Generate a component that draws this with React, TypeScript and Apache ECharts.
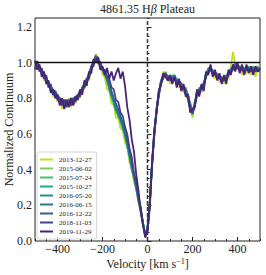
import React, { useEffect, useRef } from "react";
import * as echarts from "echarts";

const dates = [
  "2013-12-27", "2015-06-02", "2015-07-24", "2015-10-27", "2016-05-20",
  "2016-06-15", "2016-12-22", "2018-11-03", "2019-11-29",
];
const colors = [
  "#c2df23", "#7ad151", "#44bf70", "#22a884", "#21918c",
  "#2a788e", "#355f8d", "#414487", "#482475",
];

// velocity grid, km/s (-500 .. 500, 10 km/s)
const velocities = Array.from({ length: 101 }, (_, i) => -500 + 10 * i);

const flux20131227 = [
  0.97, 1.00, 0.95, 0.96, 0.90, 0.92, 0.86, 0.87, 0.81, 0.84,
  0.78, 0.80, 0.74, 0.79, 0.76, 0.80, 0.75, 0.80, 0.77, 0.82,
  0.80, 0.86, 0.85, 0.91, 0.90, 0.96, 0.98, 1.05, 0.99, 1.00,
  0.93, 0.92, 0.85, 0.84, 0.77, 0.76, 0.69, 0.69, 0.63, 0.62,
  0.55, 0.53, 0.44, 0.41, 0.33, 0.29, 0.21, 0.17, 0.08, 0.04,
  0.06, 0.22, 0.42, 0.62, 0.71, 0.84, 0.87, 0.95, 0.92, 0.93,
  0.88, 0.93, 0.90, 0.91, 0.86, 0.89, 0.83, 0.86, 0.78, 0.77,
  0.69, 0.78, 0.80, 0.86, 0.83, 0.89, 0.91, 0.97, 0.95, 0.96,
  0.91, 0.94, 0.89, 0.92, 0.88, 0.93, 0.91, 0.97, 1.06, 0.98,
  0.96, 0.98, 0.93, 0.97, 0.94, 0.98, 0.93, 0.98, 0.92, 0.97,
  0.95,
];
const flux20150602 = [
  0.99, 0.98, 0.98, 0.94, 0.94, 0.90, 0.89, 0.85, 0.85, 0.82,
  0.82, 0.78, 0.79, 0.77, 0.79, 0.77, 0.80, 0.78, 0.81, 0.80,
  0.84, 0.84, 0.89, 0.89, 0.94, 0.96, 1.01, 1.02, 1.03, 0.98,
  0.95, 0.93, 0.89, 0.85, 0.80, 0.77, 0.72, 0.70, 0.66, 0.63,
  0.58, 0.53, 0.47, 0.40, 0.35, 0.29, 0.22, 0.16, 0.09, 0.03,
  0.07, 0.21, 0.44, 0.59, 0.74, 0.82, 0.90, 0.92, 0.95, 0.91,
  0.92, 0.91, 0.93, 0.89, 0.90, 0.87, 0.87, 0.84, 0.82, 0.75,
  0.73, 0.76, 0.84, 0.84, 0.87, 0.87, 0.94, 0.95, 0.98, 0.94,
  0.95, 0.92, 0.93, 0.90, 0.92, 0.91, 0.95, 0.95, 0.98, 0.98,
  0.99, 0.96, 0.98, 0.95, 0.98, 0.96, 0.97, 0.96, 0.97, 0.98,
  0.97,
];
const flux20150724 = [
  0.97, 1.00, 0.96, 0.96, 0.92, 0.92, 0.87, 0.87, 0.83, 0.84,
  0.80, 0.80, 0.77, 0.79, 0.77, 0.79, 0.78, 0.80, 0.79, 0.82,
  0.82, 0.86, 0.87, 0.91, 0.92, 0.98, 0.99, 1.04, 1.01, 1.00,
  0.96, 0.94, 0.90, 0.86, 0.81, 0.78, 0.73, 0.71, 0.67, 0.64,
  0.59, 0.54, 0.47, 0.41, 0.35, 0.30, 0.23, 0.17, 0.10, 0.03,
  0.06, 0.20, 0.42, 0.61, 0.72, 0.84, 0.88, 0.94, 0.93, 0.93,
  0.90, 0.93, 0.91, 0.91, 0.88, 0.89, 0.85, 0.86, 0.80, 0.77,
  0.71, 0.78, 0.82, 0.86, 0.85, 0.89, 0.92, 0.97, 0.96, 0.96,
  0.93, 0.94, 0.91, 0.92, 0.90, 0.93, 0.93, 0.97, 0.96, 1.00,
  0.97, 0.98, 0.96, 0.97, 0.96, 0.98, 0.95, 0.98, 0.95, 0.97,
  0.96,
];
const flux20151027 = [
  0.98, 0.98, 0.97, 0.94, 0.93, 0.90, 0.88, 0.85, 0.84, 0.82,
  0.81, 0.78, 0.78, 0.77, 0.78, 0.77, 0.79, 0.78, 0.80, 0.80,
  0.83, 0.84, 0.88, 0.89, 0.93, 0.96, 1.00, 1.02, 1.02, 0.98,
  0.96, 0.93, 0.91, 0.85, 0.82, 0.77, 0.74, 0.70, 0.68, 0.63,
  0.60, 0.53, 0.48, 0.40, 0.36, 0.29, 0.23, 0.16, 0.10, 0.02,
  0.07, 0.19, 0.43, 0.59, 0.73, 0.82, 0.89, 0.92, 0.94, 0.91,
  0.91, 0.91, 0.92, 0.89, 0.89, 0.87, 0.86, 0.84, 0.81, 0.75,
  0.72, 0.76, 0.83, 0.84, 0.86, 0.87, 0.93, 0.95, 0.97, 0.94,
  0.94, 0.92, 0.92, 0.90, 0.91, 0.91, 0.94, 0.95, 0.97, 0.98,
  0.98, 0.96, 0.97, 0.95, 0.97, 0.96, 0.96, 0.96, 0.96, 0.96,
  0.96,
];
const flux20160520 = [
  0.99, 0.99, 0.98, 0.95, 0.94, 0.91, 0.89, 0.86, 0.85, 0.83,
  0.82, 0.80, 0.79, 0.79, 0.79, 0.78, 0.80, 0.79, 0.81, 0.81,
  0.84, 0.85, 0.89, 0.90, 0.94, 0.97, 1.01, 1.03, 1.03, 0.99,
  0.97, 0.94, 0.92, 0.87, 0.83, 0.79, 0.75, 0.72, 0.69, 0.65,
  0.61, 0.55, 0.49, 0.42, 0.37, 0.30, 0.24, 0.17, 0.10, 0.03,
  0.08, 0.21, 0.44, 0.61, 0.74, 0.83, 0.90, 0.93, 0.94, 0.92,
  0.92, 0.92, 0.93, 0.90, 0.90, 0.88, 0.87, 0.85, 0.82, 0.77,
  0.73, 0.77, 0.84, 0.85, 0.87, 0.88, 0.94, 0.96, 0.98, 0.95,
  0.95, 0.93, 0.93, 0.91, 0.92, 0.92, 0.95, 0.96, 0.98, 0.99,
  0.99, 0.97, 0.98, 0.96, 0.98, 0.97, 0.97, 0.97, 0.97, 0.97,
  0.97,
];
const flux20160615 = [
  0.98, 1.00, 0.97, 0.96, 0.93, 0.92, 0.88, 0.87, 0.84, 0.84,
  0.81, 0.80, 0.78, 0.79, 0.78, 0.79, 0.79, 0.80, 0.80, 0.82,
  0.83, 0.86, 0.88, 0.91, 0.93, 0.98, 1.00, 1.04, 1.02, 1.00,
  0.96, 0.95, 0.91, 0.87, 0.82, 0.79, 0.74, 0.72, 0.68, 0.65,
  0.60, 0.55, 0.48, 0.42, 0.36, 0.31, 0.23, 0.18, 0.10, 0.04,
  0.07, 0.20, 0.43, 0.60, 0.73, 0.83, 0.89, 0.93, 0.94, 0.92,
  0.91, 0.92, 0.92, 0.90, 0.89, 0.88, 0.86, 0.85, 0.81, 0.76,
  0.72, 0.77, 0.83, 0.85, 0.86, 0.88, 0.93, 0.96, 0.97, 0.95,
  0.94, 0.93, 0.92, 0.91, 0.91, 0.92, 0.94, 0.96, 0.97, 0.99,
  0.98, 0.97, 0.97, 0.96, 0.97, 0.97, 0.96, 0.97, 0.96, 0.97,
  0.96,
];
const flux20161222 = [
  0.97, 0.99, 0.96, 0.95, 0.92, 0.91, 0.87, 0.86, 0.83, 0.83,
  0.80, 0.79, 0.77, 0.78, 0.77, 0.78, 0.78, 0.79, 0.79, 0.81,
  0.82, 0.85, 0.87, 0.90, 0.92, 0.97, 0.99, 1.02, 1.01, 0.99,
  0.96, 0.95, 0.92, 0.88, 0.84, 0.80, 0.77, 0.74, 0.70, 0.66,
  0.62, 0.56, 0.50, 0.43, 0.37, 0.31, 0.24, 0.17, 0.10, 0.03,
  0.06, 0.20, 0.42, 0.60, 0.73, 0.82, 0.88, 0.92, 0.93, 0.91,
  0.90, 0.91, 0.91, 0.89, 0.88, 0.87, 0.85, 0.84, 0.80, 0.75,
  0.71, 0.76, 0.82, 0.84, 0.85, 0.87, 0.92, 0.95, 0.96, 0.94,
  0.93, 0.92, 0.91, 0.90, 0.90, 0.91, 0.93, 0.95, 0.96, 0.98,
  0.97, 0.96, 0.96, 0.95, 0.96, 0.96, 0.95, 0.96, 0.95, 0.96,
  0.95,
];
const flux20181103 = [
  0.96, 1.01, 0.95, 0.97, 0.91, 0.93, 0.86, 0.88, 0.82, 0.84,
  0.79, 0.80, 0.76, 0.79, 0.75, 0.79, 0.76, 0.80, 0.78, 0.82,
  0.81, 0.86, 0.86, 0.91, 0.91, 0.98, 0.98, 1.03, 1.00, 1.00,
  0.96, 0.96, 0.92, 0.91, 0.86, 0.85, 0.79, 0.78, 0.72, 0.70,
  0.64, 0.60, 0.52, 0.47, 0.38, 0.33, 0.24, 0.19, 0.09, 0.04,
  0.05, 0.19, 0.43, 0.59, 0.73, 0.81, 0.89, 0.91, 0.94, 0.90,
  0.91, 0.90, 0.92, 0.88, 0.89, 0.85, 0.86, 0.82, 0.80, 0.73,
  0.72, 0.75, 0.83, 0.83, 0.86, 0.86, 0.93, 0.94, 0.97, 0.93,
  0.94, 0.91, 0.92, 0.89, 0.91, 0.90, 0.94, 0.94, 0.97, 0.97,
  0.98, 0.95, 0.97, 0.94, 0.97, 0.95, 0.96, 0.95, 0.96, 0.95,
  0.96,
];
const flux20191129 = [
  1.01, 0.96, 0.99, 0.92, 0.95, 0.88, 0.90, 0.83, 0.85, 0.80,
  0.82, 0.76, 0.80, 0.74, 0.79, 0.75, 0.80, 0.76, 0.81, 0.79,
  0.85, 0.82, 0.90, 0.87, 0.95, 0.94, 1.02, 1.00, 1.03, 0.96,
  0.98, 0.93, 0.97, 0.91, 0.95, 0.90, 0.94, 0.97, 0.91, 0.95,
  0.87, 0.75, 0.68, 0.57, 0.50, 0.37, 0.28, 0.17, 0.09, 0.02,
  0.06, 0.22, 0.42, 0.62, 0.72, 0.84, 0.88, 0.94, 0.92, 0.90,
  0.93, 0.88, 0.92, 0.86, 0.91, 0.84, 0.88, 0.81, 0.82, 0.72,
  0.74, 0.75, 0.85, 0.81, 0.88, 0.84, 0.95, 0.93, 0.99, 0.92,
  0.96, 0.90, 0.94, 0.88, 0.93, 0.88, 0.96, 0.93, 0.99, 0.95,
  1.00, 0.94, 0.99, 0.93, 0.99, 0.94, 0.98, 0.93, 0.98, 0.95,
  0.97,
];

const xTicks = [-400, -200, 0, 200, 400];
const yTicks = [0, 0.2, 0.4, 0.6, 0.8, 1.0, 1.2];
const continuumLevel = 1.0;
const restVelocity = 0;

export default function App() {
  const ref = useRef<HTMLDivElement>(null);
  useEffect(() => {
    const chart = echarts.init(ref.current!, null, { renderer: "svg" });
    const serif = "'Liberation Serif', 'DejaVu Serif', serif";
    const ink = "#222";
    const fluxes = [
      flux20131227, flux20150602, flux20150724, flux20151027, flux20160520,
      flux20160615, flux20161222, flux20181103, flux20191129,
    ];
    const spectra = dates.map((d, k) => ({
      name: d,
      type: "line",
      data: velocities.map((v, i) => [v, fluxes[k][i]]),
      symbol: "none",
      showSymbol: false,
      silent: true,
      lineStyle: { width: 1.8, color: colors[k] },
      itemStyle: { color: colors[k] },
    }));
    const minorAxis = {
      axisLine: { show: false },
      axisLabel: { show: false },
      splitLine: { show: false },
    };
    chart.setOption({
      animation: false,
      backgroundColor: "#fff",
      title: {
        text: "4861.35 H{i|β} Plateau",
        left: 147.5,
        top: 3,
        padding: 0,
        textAlign: "center",
        textStyle: {
          fontFamily: serif,
          fontSize: 12,
          fontWeight: "normal",
          color: ink,
          rich: { i: { fontFamily: serif, fontSize: 12, fontStyle: "italic", color: ink } },
        },
      },
      grid: {
        left: 35,
        right: 6,
        top: 18,
        bottom: 34,
        show: true,
        borderColor: ink,
        borderWidth: 1,
        backgroundColor: "transparent",
        containLabel: false,
        outerBoundsMode: "none",
      },
      legend: {
        orient: "vertical",
        left: 37,
        top: 152,
        data: dates,
        icon: "rect",
        itemWidth: 13,
        itemHeight: 2,
        itemGap: 0,
        padding: [3, 5, 3, 3],
        backgroundColor: "rgba(255,255,255,0.8)",
        borderColor: "#ccc",
        borderWidth: 0.8,
        borderRadius: 2,
        selectedMode: false,
        textStyle: { fontFamily: serif, fontSize: 7, lineHeight: 9, color: ink, padding: [0, 0, 0, 1] },
      },
      xAxis: [
        {
          type: "value",
          min: -500,
          max: 500,
          position: "bottom",
          axisLine: { show: false },
          splitLine: { show: false },
          axisTick: { inside: true, length: 4, customValues: xTicks, lineStyle: { color: ink } },
          axisLabel: {
            customValues: xTicks,
            formatter: (v: number) => String(v).replace("-", "\u2212"),
            fontFamily: serif,
            fontSize: 12,
            color: ink,
            margin: 2,
          },
          name: "Velocity [km s{sup|\u22121}]",
          nameLocation: "middle",
          nameGap: 16,
          nameMoveOverlap: false,
          nameTextStyle: {
            fontFamily: serif,
            fontSize: 12,
            color: ink,
            lineHeight: 14,
            rich: { sup: { fontFamily: serif, fontSize: 8, color: ink, verticalAlign: "top", lineHeight: 14 } },
          },
        },
        {
          type: "value",
          min: -500,
          max: 500,
          interval: 50,
          position: "bottom",
          ...minorAxis,
          axisTick: { inside: true, length: 2, lineStyle: { color: ink } },
        },
      ],
      yAxis: [
        {
          type: "value",
          min: 0,
          max: 1.25,
          position: "left",
          axisLine: { show: false },
          splitLine: { show: false },
          axisTick: { inside: true, length: 4, customValues: yTicks, lineStyle: { color: ink } },
          axisLabel: {
            customValues: yTicks,
            formatter: (v: number) => v.toFixed(1),
            fontFamily: serif,
            fontSize: 12,
            color: ink,
            margin: 3,
          },
          name: "Normalized Continuum",
          nameLocation: "middle",
          nameGap: 20,
          nameMoveOverlap: false,
          nameTextStyle: { fontFamily: serif, fontSize: 12, color: ink },
        },
        {
          type: "value",
          min: 0,
          max: 1.25,
          interval: 0.05,
          position: "left",
          ...minorAxis,
          axisTick: { inside: true, length: 2, lineStyle: { color: ink } },
        },
      ],
      series: [
        ...spectra,
        {
          type: "line",
          data: [[-500, continuumLevel], [500, continuumLevel]],
          symbol: "none",
          silent: true,
          lineStyle: { width: 1.5, color: "#111" },
          z: 5,
        },
        {
          type: "line",
          data: [[restVelocity, 0], [restVelocity, 1.25]],
          symbol: "none",
          silent: true,
          lineStyle: { width: 1.5, color: "#333", type: [4, 2] },
          z: 5,
        },
      ],
    });
    return () => chart.dispose();
  }, []);
  return (
    <div
      ref={ref}
      style={{ position: "absolute", left: 0, top: 0, width: 266, height: 275, background: "#fff" }}
    />
  );
}
